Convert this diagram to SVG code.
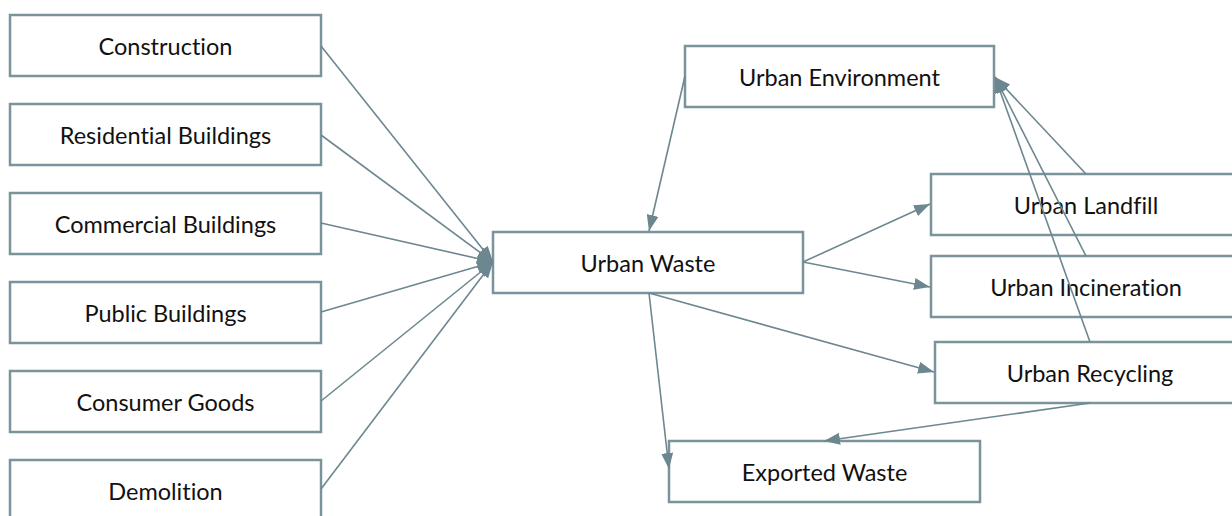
<svg xmlns="http://www.w3.org/2000/svg" width="1232" height="516" viewBox="0 0 1232 516">
  <style>
    .box { fill: #ffffff; stroke: #7b949b; stroke-width: 2.5; }
    .lbl { font-family: Lato, "Open Sans", "Liberation Sans", sans-serif; font-size: 23.5px; fill: #111111; text-anchor: middle; dominant-baseline: central; font-variant-ligatures: none; }
    .edge { fill: none; stroke: #6d8790; stroke-width: 1.6; marker-end: url(#arrow); }
  </style>
  <defs>
    <marker id="arrow" viewBox="0 0 16 12" refX="16" refY="6" markerWidth="16" markerHeight="12" markerUnits="userSpaceOnUse" orient="auto">
      <path d="M0,0 L16,6 L0,12 Z" fill="#6d8790"/>
    </marker>
  </defs>
  <rect width="1232" height="516" fill="#ffffff"/>

  <!-- sources -->
  <g id="construction"><rect class="box" x="10" y="15" width="311" height="61"/><text class="lbl" x="165.5" y="46">Construction</text></g>
  <g id="residential"><rect class="box" x="10" y="104" width="311" height="61"/><text class="lbl" x="165.5" y="135">Residential Buildings</text></g>
  <g id="commercial"><rect class="box" x="10" y="193" width="311" height="61"/><text class="lbl" x="165.5" y="224">Commercial Buildings</text></g>
  <g id="public"><rect class="box" x="10" y="282" width="311" height="61"/><text class="lbl" x="165.5" y="313">Public Buildings</text></g>
  <g id="consumer"><rect class="box" x="10" y="371" width="311" height="61"/><text class="lbl" x="165.5" y="402">Consumer Goods</text></g>
  <g id="demolition"><rect class="box" x="10" y="460" width="311" height="61"/><text class="lbl" x="165.5" y="491">Demolition</text></g>

  <!-- hub and destinations -->
  <g id="urban-waste"><rect class="box" x="493" y="232" width="310" height="61"/><text class="lbl" x="648" y="263">Urban Waste</text></g>
  <g id="urban-environment"><rect class="box" x="685" y="46" width="309" height="61"/><text class="lbl" x="839.5" y="77">Urban Environment</text></g>
  <g id="urban-landfill"><rect class="box" x="931" y="174" width="310" height="61"/><text class="lbl" x="1086" y="205">Urban Landfill</text></g>
  <g id="urban-incineration"><rect class="box" x="931" y="256" width="310" height="61"/><text class="lbl" x="1086" y="287">Urban Incineration</text></g>
  <g id="urban-recycling"><rect class="box" x="935" y="342" width="310" height="61"/><text class="lbl" x="1090" y="373">Urban Recycling</text></g>
  <g id="exported-waste"><rect class="box" x="669" y="441" width="311" height="61"/><text class="lbl" x="824.5" y="472">Exported Waste</text></g>

  <g id="connectors">
    <line class="edge" x1="321" y1="46" x2="493" y2="262"/>
    <line class="edge" x1="321" y1="135" x2="493" y2="262"/>
    <line class="edge" x1="321" y1="223" x2="493" y2="262"/>
    <line class="edge" x1="321" y1="312" x2="493" y2="262"/>
    <line class="edge" x1="321" y1="401" x2="493" y2="262"/>
    <line class="edge" x1="321" y1="489" x2="493" y2="262"/>
    <line class="edge" x1="685" y1="76" x2="649" y2="231"/>
    <line class="edge" x1="803" y1="262" x2="930" y2="204"/>
    <line class="edge" x1="803" y1="262" x2="930" y2="287"/>
    <line class="edge" x1="649" y1="293" x2="934" y2="372"/>
    <line class="edge" x1="649" y1="293" x2="669" y2="469"/>
    <line class="edge" x1="1086" y1="174" x2="995" y2="77"/>
    <line class="edge" x1="1086" y1="256" x2="995" y2="77"/>
    <line class="edge" x1="1090" y1="342" x2="995" y2="77"/>
    <line class="edge" x1="1090" y1="403" x2="824" y2="441"/>
  </g>
</svg>
